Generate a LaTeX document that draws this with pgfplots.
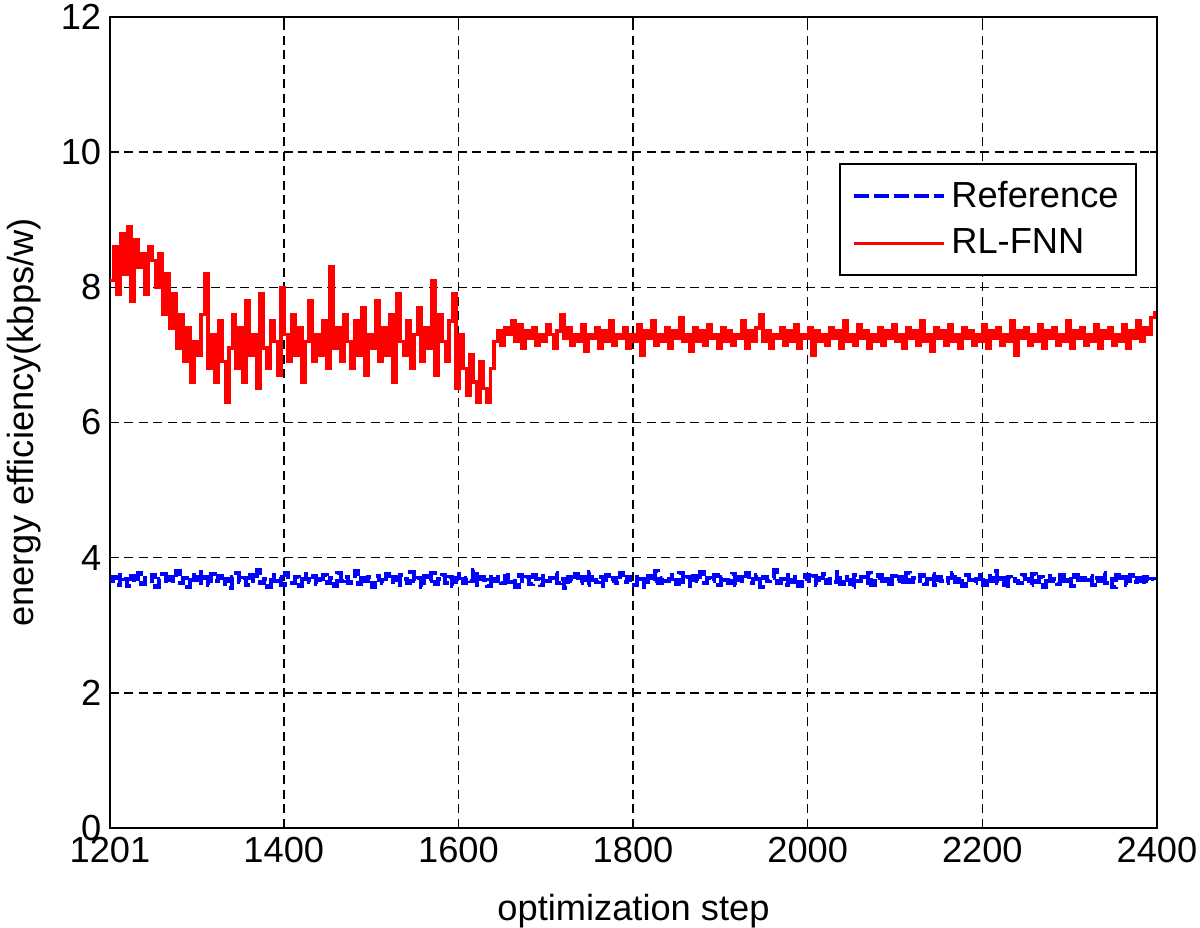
\documentclass[border=0pt]{standalone}
\usepackage{pgfplots}
\pgfplotsset{compat=1.18}
\usepackage{pgfplotstable}
\usepackage{fontspec}
\setmainfont{Liberation Sans}

\pgfplotstableread[row sep=\\]{
y\\
8.1\\ 8.6\\ 7.9\\ 8.8\\ 8.2\\ 8.9\\ 7.8\\ 8.7\\ 8.3\\ 8.5\\ 7.9\\ 8.6\\ 8.4\\
8.0\\ 8.5\\ 7.6\\ 8.2\\ 7.4\\ 7.9\\ 7.1\\ 7.6\\
6.9\\ 7.4\\ 6.6\\ 7.2\\ 7.0\\ 7.6\\ 8.2\\ 6.8\\ 7.3\\ 6.6\\ 7.5\\ 6.9\\ 6.3\\
7.1\\ 7.6\\ 6.8\\ 7.4\\ 6.6\\ 7.8\\ 7.0\\ 7.3\\ 6.5\\ 7.9\\ 7.1\\ 6.8\\ 7.5\\ 7.2\\ 6.7\\ 8.0\\
7.3\\ 6.9\\ 7.6\\ 7.0\\ 7.4\\ 6.6\\ 7.2\\ 7.8\\ 6.9\\ 7.3\\ 7.0\\ 7.5\\ 6.8\\ 8.3\\ 7.1\\ 7.4\\
6.9\\ 7.6\\ 7.2\\ 6.8\\ 7.5\\ 7.0\\ 7.7\\ 6.7\\ 7.3\\ 7.1\\ 7.8\\ 6.9\\ 7.4\\ 7.0\\ 7.6\\ 6.6\\
7.9\\ 7.2\\ 7.0\\ 7.5\\ 6.8\\ 7.3\\ 7.7\\ 6.9\\ 7.4\\ 7.1\\ 8.1\\ 6.7\\ 7.6\\ 7.2\\ 6.9\\ 7.5\\
7.9\\ 6.5\\ 7.3\\ 6.8\\ 6.4\\ 7.0\\ 6.6\\ 6.3\\ 6.9\\ 6.5\\ 6.3\\ 6.8\\
7.2\\ 7.35\\ 7.15\\ 7.4\\ 7.3\\ 7.5\\ 7.2\\ 7.45\\ 7.1\\ 7.35\\ 7.25\\ 7.4\\ 7.15\\ 7.3\\ 7.2\\ 7.45\\ 7.3\\ 7.1\\ 7.35\\
7.6\\ 7.25\\ 7.4\\ 7.15\\ 7.3\\ 7.2\\ 7.45\\ 7.05\\ 7.3\\ 7.25\\ 7.4\\ 7.1\\ 7.35\\ 7.2\\ 7.5\\ 7.15\\ 7.3\\ 7.25\\ 7.4\\
7.1\\ 7.3\\ 7.2\\ 7.45\\ 7.0\\ 7.35\\ 7.25\\ 7.5\\ 7.15\\ 7.3\\ 7.2\\ 7.4\\ 7.1\\ 7.35\\ 7.25\\ 7.55\\ 7.2\\ 7.3\\ 7.05\\
7.4\\ 7.2\\ 7.35\\ 7.15\\ 7.45\\ 7.25\\ 7.3\\ 7.1\\ 7.4\\ 7.2\\ 7.35\\ 7.15\\ 7.3\\ 7.25\\ 7.5\\ 7.1\\ 7.35\\ 7.2\\ 7.4\\
7.6\\ 7.2\\ 7.35\\ 7.1\\ 7.3\\ 7.25\\ 7.4\\ 7.15\\ 7.35\\ 7.2\\ 7.45\\ 7.1\\ 7.3\\ 7.25\\ 7.4\\ 7.0\\ 7.35\\ 7.2\\ 7.3\\
7.15\\ 7.4\\ 7.25\\ 7.35\\ 7.1\\ 7.5\\ 7.2\\ 7.3\\ 7.15\\ 7.45\\ 7.25\\ 7.35\\ 7.1\\ 7.3\\ 7.2\\ 7.4\\ 7.15\\ 7.35\\ 7.25\\
7.45\\ 7.2\\ 7.3\\ 7.1\\ 7.4\\ 7.25\\ 7.35\\ 7.15\\ 7.5\\ 7.2\\ 7.3\\ 7.05\\ 7.4\\ 7.25\\ 7.35\\ 7.15\\ 7.45\\ 7.2\\ 7.3\\
7.1\\ 7.4\\ 7.25\\ 7.35\\ 7.15\\ 7.3\\ 7.2\\ 7.45\\ 7.1\\ 7.35\\ 7.25\\ 7.4\\ 7.15\\ 7.3\\ 7.2\\ 7.5\\ 7.0\\ 7.35\\ 7.25\\
7.4\\ 7.15\\ 7.3\\ 7.2\\ 7.45\\ 7.1\\ 7.35\\ 7.25\\ 7.4\\ 7.15\\ 7.3\\ 7.2\\ 7.5\\ 7.1\\ 7.35\\ 7.25\\ 7.4\\ 7.15\\ 7.3\\
7.2\\ 7.45\\ 7.1\\ 7.35\\ 7.25\\ 7.4\\ 7.15\\ 7.3\\ 7.2\\ 7.45\\ 7.1\\ 7.35\\ 7.25\\ 7.5\\ 7.2\\ 7.4\\ 7.3\\ 7.55\\ 7.65\\
}\redtable

\pgfplotstableread[row sep=\\]{
y\\
3.65\\ 3.72\\ 3.60\\ 3.75\\ 3.68\\ 3.58\\ 3.73\\ 3.64\\ 3.78\\ 3.61\\ 3.70\\ 3.66\\ 3.74\\ 3.57\\ 3.69\\ 3.76\\ 3.62\\ 3.71\\ 3.65\\ 3.80\\
3.63\\ 3.70\\ 3.56\\ 3.74\\ 3.67\\ 3.79\\ 3.62\\ 3.71\\ 3.59\\ 3.76\\ 3.66\\ 3.73\\ 3.61\\ 3.68\\ 3.55\\ 3.72\\ 3.77\\ 3.64\\ 3.70\\ 3.60\\
3.74\\ 3.66\\ 3.81\\ 3.62\\ 3.69\\ 3.57\\ 3.75\\ 3.65\\ 3.72\\ 3.60\\ 3.78\\ 3.67\\ 3.63\\ 3.71\\ 3.58\\ 3.76\\ 3.68\\ 3.64\\ 3.73\\ 3.61\\
3.69\\ 3.75\\ 3.62\\ 3.70\\ 3.58\\ 3.77\\ 3.66\\ 3.72\\ 3.63\\ 3.68\\ 3.80\\ 3.61\\ 3.74\\ 3.65\\ 3.71\\ 3.57\\ 3.73\\ 3.67\\ 3.62\\ 3.76\\
3.64\\ 3.71\\ 3.59\\ 3.74\\ 3.68\\ 3.62\\ 3.79\\ 3.66\\ 3.70\\ 3.56\\ 3.73\\ 3.65\\ 3.77\\ 3.61\\ 3.69\\ 3.75\\ 3.63\\ 3.72\\ 3.58\\ 3.70\\
3.76\\ 3.63\\ 3.70\\ 3.66\\ 3.82\\ 3.60\\ 3.72\\ 3.67\\ 3.58\\ 3.74\\ 3.65\\ 3.71\\ 3.62\\ 3.78\\ 3.64\\ 3.69\\ 3.57\\ 3.75\\ 3.66\\ 3.72\\
3.61\\ 3.74\\ 3.68\\ 3.59\\ 3.73\\ 3.65\\ 3.70\\ 3.77\\ 3.62\\ 3.69\\ 3.55\\ 3.72\\ 3.66\\ 3.76\\ 3.63\\ 3.71\\ 3.60\\ 3.79\\ 3.67\\ 3.64\\
3.72\\ 3.58\\ 3.75\\ 3.66\\ 3.70\\ 3.62\\ 3.78\\ 3.64\\ 3.71\\ 3.67\\ 3.60\\ 3.74\\ 3.69\\ 3.57\\ 3.73\\ 3.65\\ 3.80\\ 3.62\\ 3.70\\ 3.66\\
3.68\\ 3.74\\ 3.61\\ 3.77\\ 3.64\\ 3.71\\ 3.58\\ 3.73\\ 3.66\\ 3.79\\ 3.62\\ 3.70\\ 3.65\\ 3.75\\ 3.59\\ 3.72\\ 3.67\\ 3.63\\ 3.76\\ 3.60\\
3.71\\ 3.65\\ 3.78\\ 3.62\\ 3.69\\ 3.74\\ 3.57\\ 3.72\\ 3.66\\ 3.70\\ 3.81\\ 3.63\\ 3.68\\ 3.60\\ 3.75\\ 3.64\\ 3.72\\ 3.58\\ 3.69\\ 3.74\\
3.66\\ 3.73\\ 3.59\\ 3.70\\ 3.76\\ 3.62\\ 3.68\\ 3.64\\ 3.79\\ 3.61\\ 3.72\\ 3.67\\ 3.56\\ 3.74\\ 3.65\\ 3.71\\ 3.63\\ 3.77\\ 3.60\\ 3.70\\
3.75\\ 3.62\\ 3.69\\ 3.57\\ 3.73\\ 3.66\\ 3.71\\ 3.60\\ 3.78\\ 3.64\\ 3.70\\ 3.65\\ 3.74\\ 3.61\\ 3.68\\ 3.76\\ 3.59\\ 3.72\\ 3.66\\ 3.63\\
3.70\\ 3.77\\ 3.64\\ 3.71\\ 3.58\\ 3.74\\ 3.67\\ 3.62\\ 3.69\\ 3.75\\ 3.60\\ 3.73\\ 3.66\\ 3.80\\ 3.63\\ 3.70\\ 3.55\\ 3.72\\ 3.68\\ 3.65\\
3.62\\ 3.74\\ 3.68\\ 3.60\\ 3.76\\ 3.64\\ 3.71\\ 3.57\\ 3.73\\ 3.66\\ 3.69\\ 3.61\\ 3.78\\ 3.65\\ 3.72\\ 3.58\\ 3.75\\ 3.63\\ 3.70\\ 3.67\\
3.73\\ 3.60\\ 3.70\\ 3.65\\ 3.77\\ 3.62\\ 3.68\\ 3.56\\ 3.74\\ 3.66\\ 3.71\\ 3.59\\ 3.75\\ 3.64\\ 3.70\\ 3.61\\ 3.72\\ 3.66\\ 3.69\\ 3.68\\
}\bluetable

\begin{document}
\begin{tikzpicture}
\begin{axis}[
  scale only axis,
  width=418.8pt, height=324.4pt,
  xmin=1201, xmax=2400, ymin=0, ymax=12,
  xtick={1201,1400,1600,1800,2000,2200,2400},
  ytick={0,2,4,6,8,10,12},
  /pgf/number format/1000 sep={},
  /pgf/number format/assume math mode=true,
  tick label style={font=\fontsize{14.5}{17}\selectfont},
  label style={font=\fontsize{14.5}{17}\selectfont},
  tick align=inside,
  major tick length=3pt,
  tick style={black, line width=0.6pt},
  axis line style={black, line width=0.8pt},
  grid=major,
  major grid style={black, line width=0.6pt, dash pattern=on 3.6pt off 2.2pt},
  xlabel={optimization step},
  ylabel={energy efficiency(kbps/w)},
  xlabel style={at={(axis description cs:0.5,-0.1023)}, anchor=center},
  ylabel style={at={(axis description cs:-0.0821,0.5)}, anchor=center},
  legend style={at={(rel axis cs:0.981,0.820)}, anchor=north east, draw=black, line width=0.8pt,
    font=\fontsize{14.5}{17}\selectfont, inner xsep=5pt, inner ysep=5pt, row sep=3pt},
  legend cell align=left,
  legend image code/.code={\draw[#1] (0pt,0pt) -- (36pt,0pt);},
]
\addplot[blue, line width=1.6pt, dash pattern=on 6pt off 2pt, const plot]
  table[x expr=1201+4*\coordindex, y=y] {\bluetable};
\addlegendentry{Reference}
\addplot[red, line width=1.4pt, const plot]
  table[x expr=1201+4*\coordindex, y=y] {\redtable};
\addlegendentry{RL-FNN}
\end{axis}
\pgfresetboundingbox
\path ([xshift=-44pt,yshift=-40pt]current axis.south west) rectangle ([xshift=17.2pt,yshift=6.8pt]current axis.north east);
\end{tikzpicture}
\end{document}
